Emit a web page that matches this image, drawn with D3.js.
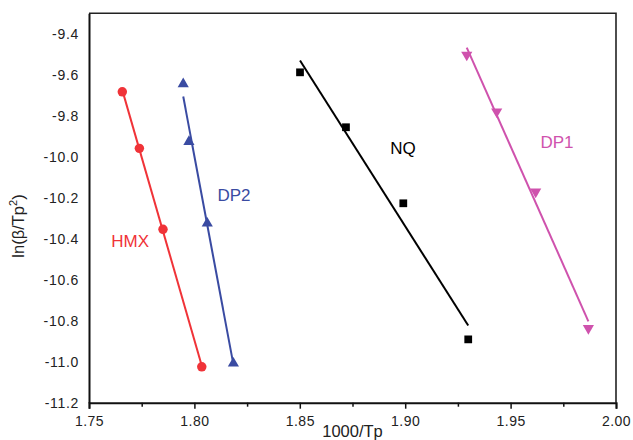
<!DOCTYPE html>
<html>
<head>
<meta charset="utf-8">
<script src="https://cdn.jsdelivr.net/npm/d3@7"></script>
<style>
  body { margin: 0; background: #fff; }
  svg { display: block; font-family: "Liberation Sans", Arial, sans-serif; }
</style>
</head>
<body>
<svg id="chart" width="633" height="440"></svg>
<script>
// ---- data ----
const seriesNames = ["HMX", "DP2", "NQ", "DP1"];
const hmxX = [1.7658, 1.7739, 1.7851, 1.8035];
const hmxY = [-9.683, -9.959, -10.354, -11.025];
const dp2X = [1.7947, 1.7974, 1.8061, 1.8185];
const dp2Y = [-9.645, -9.927, -10.325, -11.008];
const nqX = [1.8501, 1.8719, 1.8991, 1.9299];
const nqY = [-9.588, -9.856, -10.227, -10.891];
const dp1X = [1.9292, 1.9434, 1.9619, 1.9869];
const dp1Y = [-9.503, -9.780, -10.171, -10.837];
const xTicks = [1.75, 1.80, 1.85, 1.90, 1.95, 2.00];
const xMinorTicks = [1.775, 1.825, 1.875, 1.925, 1.975];
const yTicks = [-11.2, -11.0, -10.8, -10.6, -10.4, -10.2, -10.0, -9.8, -9.6, -9.4];
const xDomain = [1.75, 2.00];
const yDomain = [-11.2, -9.3];

const series = [
  { name: "HMX", xs: hmxX, ys: hmxY, color: "#f03338", symbol: d3.symbolCircle, size: 70, rot: 0, label: [1.7695, -10.42] },
  { name: "DP2", xs: dp2X, ys: dp2Y, color: "#3a4ba2", symbol: d3.symbolTriangle, size: 54, rot: 0, label: [1.8188, -10.195] },
  { name: "NQ",  xs: nqX,  ys: nqY,  color: "#000000", symbol: d3.symbolSquare, size: 60, rot: 0, label: [1.8990, -9.967] },
  { name: "DP1", xs: dp1X, ys: dp1Y, color: "#cf52ad", symbol: d3.symbolTriangle, size: 54, rot: 180, label: [1.9720, -9.933] }
];

// ---- layout ----
const svg = d3.select("#chart");
const m = { left: 89, right: 616, top: 13.3, bottom: 402.7 };
const x = d3.scaleLinear().domain(xDomain).range([m.left, m.right]);
const y = d3.scaleLinear().domain(yDomain).range([m.bottom, m.top]);

// frame (top & right)
svg.append("path")
  .attr("d", `M${m.left},${m.top}H${m.right}V${m.bottom}`)
  .attr("fill", "none").attr("stroke", "#222").attr("stroke-width", 1.6);

// x axis
const xAxis = svg.append("g").attr("transform", `translate(0,${m.bottom})`)
  .call(d3.axisBottom(x).tickValues(xTicks).tickFormat(d3.format(".2f")).tickSize(6).tickPadding(7));
svg.append("g").attr("transform", `translate(0,${m.bottom})`)
  .call(d3.axisBottom(x).tickValues(xMinorTicks).tickFormat("").tickSize(4))
  .call(g => g.select(".domain").remove())
  .selectAll("line").attr("stroke", "#111").attr("stroke-width", 1.5);
xAxis.select(".domain").attr("stroke", "#111").attr("stroke-width", 2);
xAxis.selectAll(".tick line").attr("stroke", "#111").attr("stroke-width", 1.5);
xAxis.selectAll(".tick text").attr("font-size", 14).attr("fill", "#222")
  .attr("letter-spacing", 0.5)
  .attr("font-family", "Liberation Sans, Arial, sans-serif");

// y axis
const yAxis = svg.append("g").attr("transform", `translate(${m.left},0)`)
  .call(d3.axisLeft(y).tickValues(yTicks).tickFormat(d3.format(".1f")).tickSize(0).tickPadding(10));
yAxis.select(".domain").attr("stroke", "#111").attr("stroke-width", 2);
yAxis.selectAll(".tick text").attr("font-size", 14).attr("fill", "#222")
  .attr("letter-spacing", 0.7)
  .attr("font-family", "Liberation Sans, Arial, sans-serif")
  .text(d => d3.format(".1f")(d).replace("−", "-"));

// axis titles
svg.append("text").attr("x", (m.left + m.right) / 2).attr("y", 437)
  .attr("text-anchor", "middle").attr("font-size", 16.5).attr("fill", "#222")
  .text("1000/Tp");
const yt = svg.append("text")
  .attr("transform", `translate(24,${(m.top + m.bottom) / 2 + 18}) rotate(-90)`)
  .attr("text-anchor", "middle").attr("font-size", 16.5).attr("fill", "#222");
yt.append("tspan").text("ln(β/Tp");
yt.append("tspan").attr("font-size", 11).attr("dy", -7).text("2");
yt.append("tspan").attr("dy", 7).text(")");

// series: regression lines + markers + labels
series.forEach(s => {
  const pts = s.xs.map((v, i) => [v, s.ys[i]]);
  const mx = d3.mean(s.xs), my = d3.mean(s.ys);
  const sxy = d3.sum(pts, p => (p[0] - mx) * (p[1] - my));
  const sxx = d3.sum(pts, p => (p[0] - mx) ** 2);
  const slope = sxy / sxx, icpt = my - slope * mx;
  const [x0, x1] = d3.extent(s.xs);
  svg.append("line")
    .attr("x1", x(x0)).attr("y1", y(icpt + slope * x0))
    .attr("x2", x(x1)).attr("y2", y(icpt + slope * x1))
    .attr("stroke", s.color).attr("stroke-width", 2);
  svg.append("g").selectAll("path").data(pts).join("path")
    .attr("d", d3.symbol().type(s.symbol).size(s.size))
    .attr("transform", p => `translate(${x(p[0])},${y(p[1])}) rotate(${s.rot})`)
    .attr("fill", s.color);
  svg.append("text").attr("x", x(s.label[0])).attr("y", y(s.label[1]))
    .attr("text-anchor", "middle").attr("dominant-baseline", "middle")
    .attr("font-size", 17).attr("fill", s.color).text(s.name);
});
</script>
</body>
</html>
